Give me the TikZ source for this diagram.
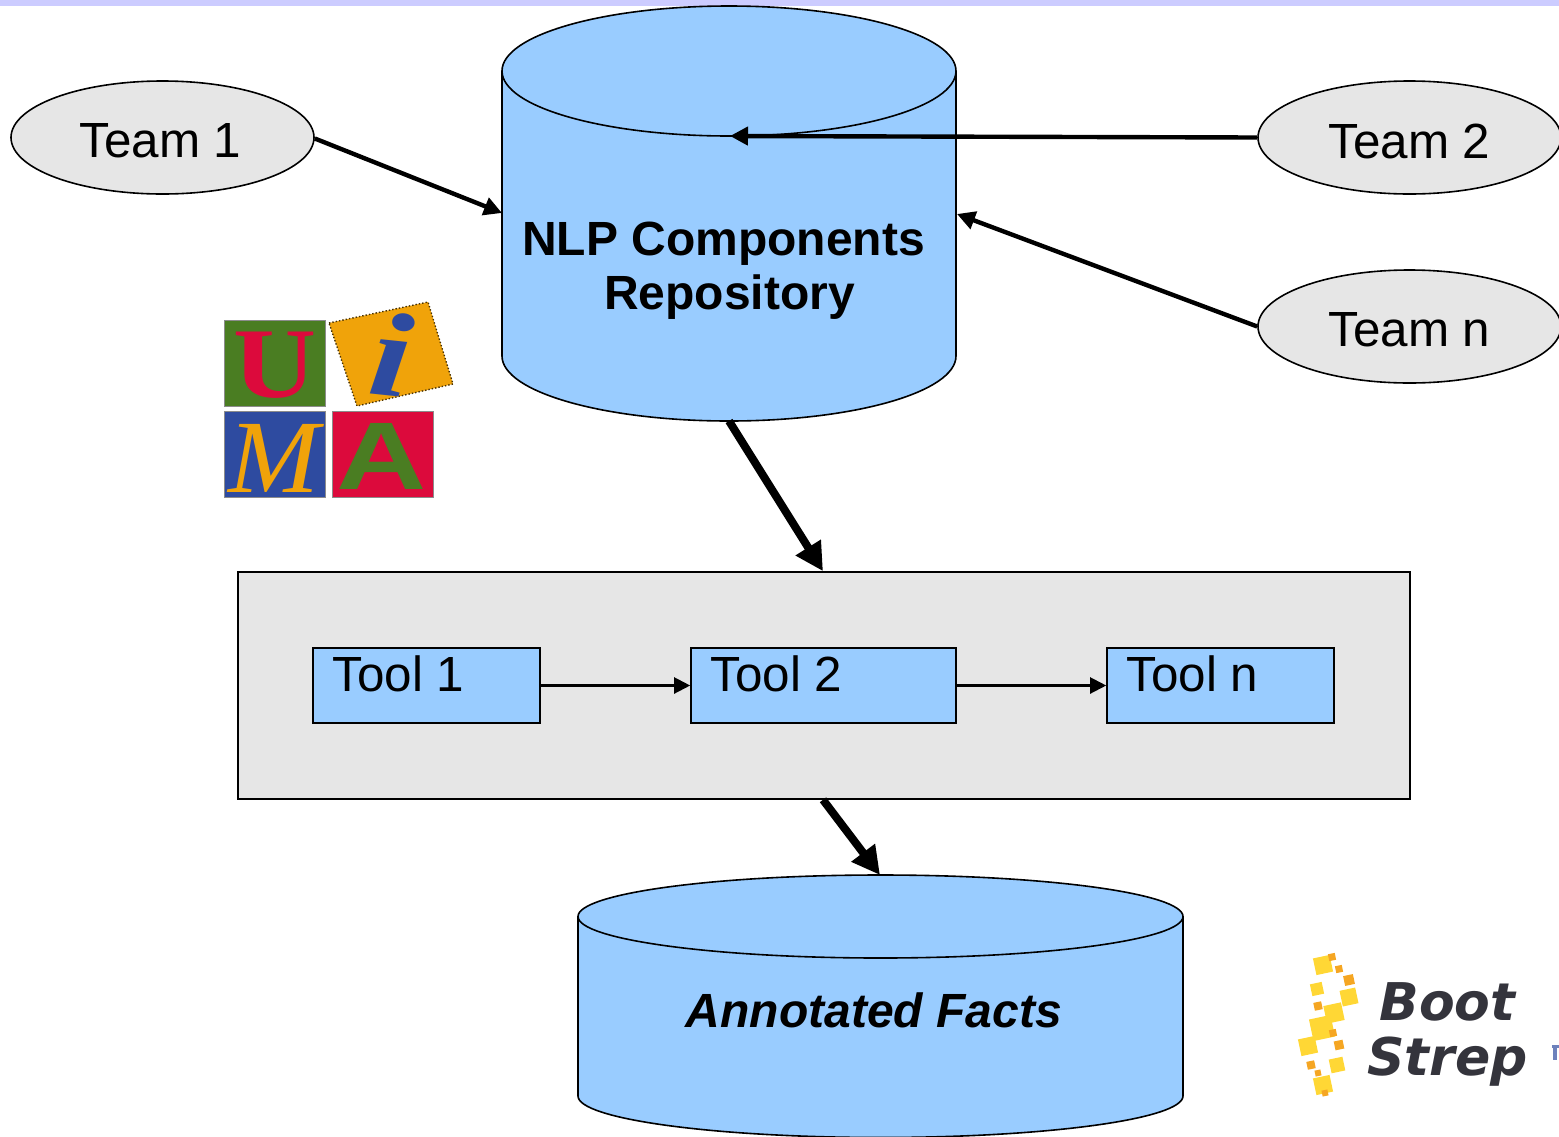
\documentclass[tikz,border=0pt]{standalone}
\usepackage{fontspec}
\setmainfont{Liberation Sans}
\newfontfamily\logoserif{Liberation Serif}
\newfontfamily\logobold{DejaVu Sans}
\usetikzlibrary{arrows.meta,shapes.geometric}
\definecolor{cylblue}{HTML}{99CCFF}
\definecolor{softgrey}{HTML}{E6E6E6}
\definecolor{strip}{HTML}{CCCCFF}
\definecolor{ugreen}{HTML}{4A7D22}
\definecolor{ured}{HTML}{DC0A3C}
\definecolor{uorange}{HTML}{F0A30A}
\definecolor{ublue}{HTML}{2E4BA0}
\definecolor{byellow}{HTML}{FFD735}
\definecolor{borange}{HTML}{F5A623}
\definecolor{bdark}{HTML}{34343C}
\tikzset{
  outline/.style={draw=black,line width=0.8pt},
  team/.style={ellipse,outline,fill=softgrey,minimum width=151.5pt,minimum height=56.5pt,inner sep=0pt},
  teamtext/.style={inner sep=0pt,font=\fontsize{24.7}{28}\selectfont},
  toolbox/.style={rectangle,outline,fill=cylblue,minimum height=37.5pt,inner sep=0pt},
  tooltext/.style={anchor=base west,inner sep=0pt,font=\fontsize{24.7}{28}\selectfont},
  thinarrow/.style={draw=black,line width=1.1pt,-{Triangle[length=8pt,width=8pt]}},
  midarrow/.style={draw=black,line width=2.2pt,-{Triangle[length=9pt,width=9pt]}},
  bigarrow/.style={draw=black,line width=4pt,-{Triangle[length=14pt,width=14pt]}},
  tile/.style={rectangle,minimum width=50.5pt,minimum height=43pt,inner sep=0pt,draw=black!45,line width=0.4pt},
  ysq/.style={rectangle,fill=byellow,draw=none,inner sep=0pt,rotate=12},
  osq/.style={rectangle,fill=borange,draw=none,inner sep=0pt,rotate=12},
}
\begin{document}
\begin{tikzpicture}[x=0.5pt,y=-0.5pt]
\useasboundingbox (0,0) rectangle (1559,1136);
\clip (0,0) rectangle (1559,1136);
\fill[strip] (0,0) rectangle (1559,5.5);

% repository cylinder
\path[outline,fill=cylblue] (502,71) -- (502,356) arc[start angle=180,end angle=0,x radius=227,y radius=65] -- (956,71) arc[start angle=0,end angle=-180,x radius=227,y radius=65] -- cycle;
\draw[outline] (502,71) arc[start angle=180,end angle=0,x radius=227,y radius=65];
\node[align=center,font=\bfseries\fontsize{24}{27}\selectfont,inner sep=0pt] (repo) at (729.5,271) {NLP Components\hspace*{6pt}\\Repository};
\coordinate (repoTop) at (730,136);
\coordinate (repoLeft) at (502,213);
\coordinate (repoRight) at (957,214);
\coordinate (repoBottom) at (729,421);

% teams
\node[team] (team1) at (162.5,137.5) {};
\node[team] (team2) at (1409.5,137.5) {};
\node[team] (teamn) at (1409.5,326.5) {};
\node[teamtext] (team1label) at (160.5,141) {Team 1};
\node[teamtext] (team2label) at (1409.5,141) {Team 2};
\node[teamtext] (teamnlabel) at (1409.5,330) {Team n};

\draw[midarrow] (team1.east) ++(0,1) -- (repoLeft);
\draw[midarrow] (team2.west) -- (repoTop);
\draw[midarrow] (teamn.west) -- (repoRight);

% UIMA logo
\node[tile,fill=ugreen] (tileU) at (274.5,363) {};
\node[tile,fill=ublue] (tileM) at (274.5,454) {};
\node[tile,fill=ured] (tileA) at (382.5,454) {};
\path[fill=uorange,draw=black!70!uorange,densely dotted,line width=0.7pt] (329,323) -- (428,302) -- (453,384) -- (357,406) -- cycle;
\node[text=ured,font=\logoserif\bfseries\fontsize{50}{50}\selectfont,inner sep=0pt,xscale=1.15] (letterU) at (275,365) {U};
\node[text=uorange,font=\logoserif\itshape\fontsize{52}{52}\selectfont,inner sep=0pt,xscale=1.05] (letterM) at (274,458) {M};
\node[text=ugreen,font=\bfseries\fontsize{48}{48}\selectfont,inner sep=0pt,xscale=1.3] (letterA) at (382,456) {A};
\node[text=ublue,font=\logoserif\bfseries\itshape\fontsize{60}{60}\selectfont,inner sep=0pt,rotate=-6,xscale=1.25] (letterI) at (392,354) {i};

% tool container
\node[rectangle,outline,fill=softgrey,minimum width=586pt,minimum height=113.5pt,inner sep=0pt] (pipeline) at (824,685.5) {};
\node[toolbox,minimum width=113.5pt] (tool1) at (426.5,685.5) {};
\node[toolbox,minimum width=132.5pt] (tool2) at (823.5,685.5) {};
\node[toolbox,minimum width=113.5pt] (tooln) at (1220.5,685.5) {};
\node[tooltext] (tool1label) at (332,691) {Tool 1};
\node[tooltext] (tool2label) at (710,691) {Tool 2};
\node[tooltext] (toolnlabel) at (1126,691) {Tool n};
\draw[thinarrow] (tool1.east) -- (tool2.west);
\draw[thinarrow] (tool2.east) -- (tooln.west);

% facts cylinder
\path[outline,fill=cylblue] (578,916.5) -- (578,1096) arc[start angle=180,end angle=0,x radius=302.5,y radius=41.5] -- (1183,916.5) arc[start angle=0,end angle=-180,x radius=302.5,y radius=41.5] -- cycle;
\draw[outline] (578,916.5) arc[start angle=180,end angle=0,x radius=302.5,y radius=41.5];
\node[font=\bfseries\itshape\fontsize{24}{28}\selectfont,inner sep=0pt] (facts) at (874,1010) {Annotated Facts};
\coordinate (factsTop) at (880,875);

\draw[bigarrow] (repoBottom) -- (pipeline.north -| 823,0);
\draw[bigarrow] (pipeline.south -| 823,0) -- (factsTop);

% BootStrep logo
\node[ysq,minimum size=8.5pt] (b1) at (1323,965) {};
\node[osq,minimum size=3.5pt] (b2) at (1332,957) {};
\node[osq,minimum size=3.5pt] (b3) at (1339,969) {};
\node[osq,minimum size=5pt] (b4) at (1349,980) {};
\node[ysq,minimum size=8pt] (b5) at (1349,997) {};
\node[ysq,minimum size=6pt] (b6) at (1317,989) {};
\node[osq,minimum size=4pt] (b7) at (1318,1006) {};
\node[ysq,minimum size=9pt] (b8) at (1334,1013) {};
\node[ysq,minimum size=11pt] (b9) at (1322,1028) {};
\node[osq,minimum size=3.5pt] (b10) at (1333,1033) {};
\node[ysq,minimum size=8.5pt] (b11) at (1308,1046) {};
\node[osq,minimum size=4.5pt] (b12) at (1339,1045) {};
\node[ysq,minimum size=7pt] (b13) at (1337,1065) {};
\node[osq,minimum size=4pt] (b14) at (1311,1065) {};
\node[osq,minimum size=3pt] (b15) at (1318,1073) {};
\node[ysq,minimum size=8.5pt] (b16) at (1323,1085) {};
\node[osq,minimum size=3pt] (b17) at (1325,1093) {};
\node[anchor=base west,inner sep=0pt,text=bdark,font=\logobold\bfseries\itshape\fontsize{26}{26}\selectfont] (boot) at (1379,1020) {Boot};
\node[anchor=base west,inner sep=0pt,text=bdark,font=\logobold\bfseries\itshape\fontsize{26}{26}\selectfont] (strep) at (1367,1075) {Strep};
\fill[ublue!70] (1552,1045) rectangle (1559,1048);
\fill[ublue!70] (1553,1045) rectangle (1557,1060);
\end{tikzpicture}
\end{document}
